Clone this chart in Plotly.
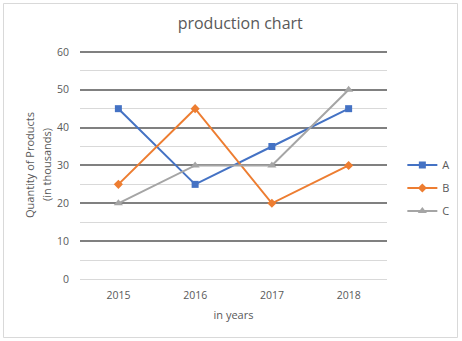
import plotly.graph_objects as go

# Production figures (thousands of units) per year
years = ["2015", "2016", "2017", "2018"]
series_a = [45, 25, 35, 45]
series_b = [25, 45, 20, 30]
series_c = [20, 30, 30, 50]
y_ticks = [0, 10, 20, 30, 40, 50, 60]

text_color = "#595959"
font_family = "Open Sans, Liberation Sans, sans-serif"

fig = go.Figure()
fig.add_trace(go.Scatter(
    x=years, y=series_a, name="A", mode="lines+markers", legendgroup="a",
    line=dict(color="#4472C4", width=2),
    marker=dict(symbol="square", size=7, color="#4472C4"),
))
fig.add_trace(go.Scatter(
    x=years, y=series_b, name="B", mode="lines+markers", legendgroup="b",
    line=dict(color="#ED7D31", width=2),
    marker=dict(symbol="diamond", size=7, color="#ED7D31"),
))
fig.add_trace(go.Scatter(
    x=years, y=series_c, name="C", mode="lines+markers", legendgroup="c",
    line=dict(color="#A5A5A5", width=2),
    marker=dict(symbol="triangle-up", size=8, color="#A5A5A5"),
))

W, H = 462, 341
ml, mr, mt, mb = 80, 75, 50, 62
pw = W - ml - mr
ph = H - mt - mb

fig.update_layout(
    width=W, height=H,
    margin=dict(l=ml, r=mr, t=mt, b=mb, pad=0, autoexpand=False),
    paper_bgcolor="white", plot_bgcolor="white",
    font=dict(family=font_family, size=10.5, color=text_color),
    title=dict(text="production chart", x=0.52, xanchor="center",
               y=1 - 23 / H, yanchor="middle",
               font=dict(size=16, color=text_color)),
    showlegend=True,
    legend=dict(x=1.05, xanchor="left", y=(H - mb - 188) / ph, yanchor="middle",
                font=dict(size=11, color=text_color),
                bgcolor="rgba(0,0,0,0)", tracegroupgap=4,
                itemwidth=30),
    xaxis=dict(
        type="category", range=[-0.5, 3.5],
        showgrid=False, showline=False, zeroline=False,
        ticks="", ticklabelstandoff=8,
        tickfont=dict(size=10.5, color=text_color),
        title=dict(text="in years", font=dict(size=11, color=text_color), standoff=10),
    ),
    yaxis=dict(
        range=[0, 60.5], tickvals=y_ticks,
        showgrid=True, gridcolor="#808080", gridwidth=2,
        zeroline=True, zerolinecolor="#d9d9d9", zerolinewidth=1,
        showline=False, ticks="", ticklabelstandoff=10,
        tickfont=dict(size=10.5, color=text_color),
        minor=dict(dtick=5, showgrid=True, gridcolor="#d9d9d9", gridwidth=1),
    ),
)

# Two-line vertical axis title
for text, xpx in [("Quantity of Products", 29), ("(in thousands)", 46)]:
    fig.add_annotation(
        text=text, textangle=-90, showarrow=False,
        xref="paper", yref="paper",
        x=(xpx - ml) / pw, y=(H - mb - 165) / ph,
        xanchor="center", yanchor="middle",
        font=dict(size=11, color=text_color),
    )

# Light frame around the whole chart area
fig.add_shape(
    type="rect", xref="paper", yref="paper",
    x0=(3.5 - ml) / pw, x1=(457.5 - ml) / pw,
    y0=-(mb - 3.5) / ph, y1=1 + (mt - 3.5) / ph,
    line=dict(color="#d9d9d9", width=1), fillcolor="rgba(0,0,0,0)",
    layer="below",
)

fig.write_html("out.html")
